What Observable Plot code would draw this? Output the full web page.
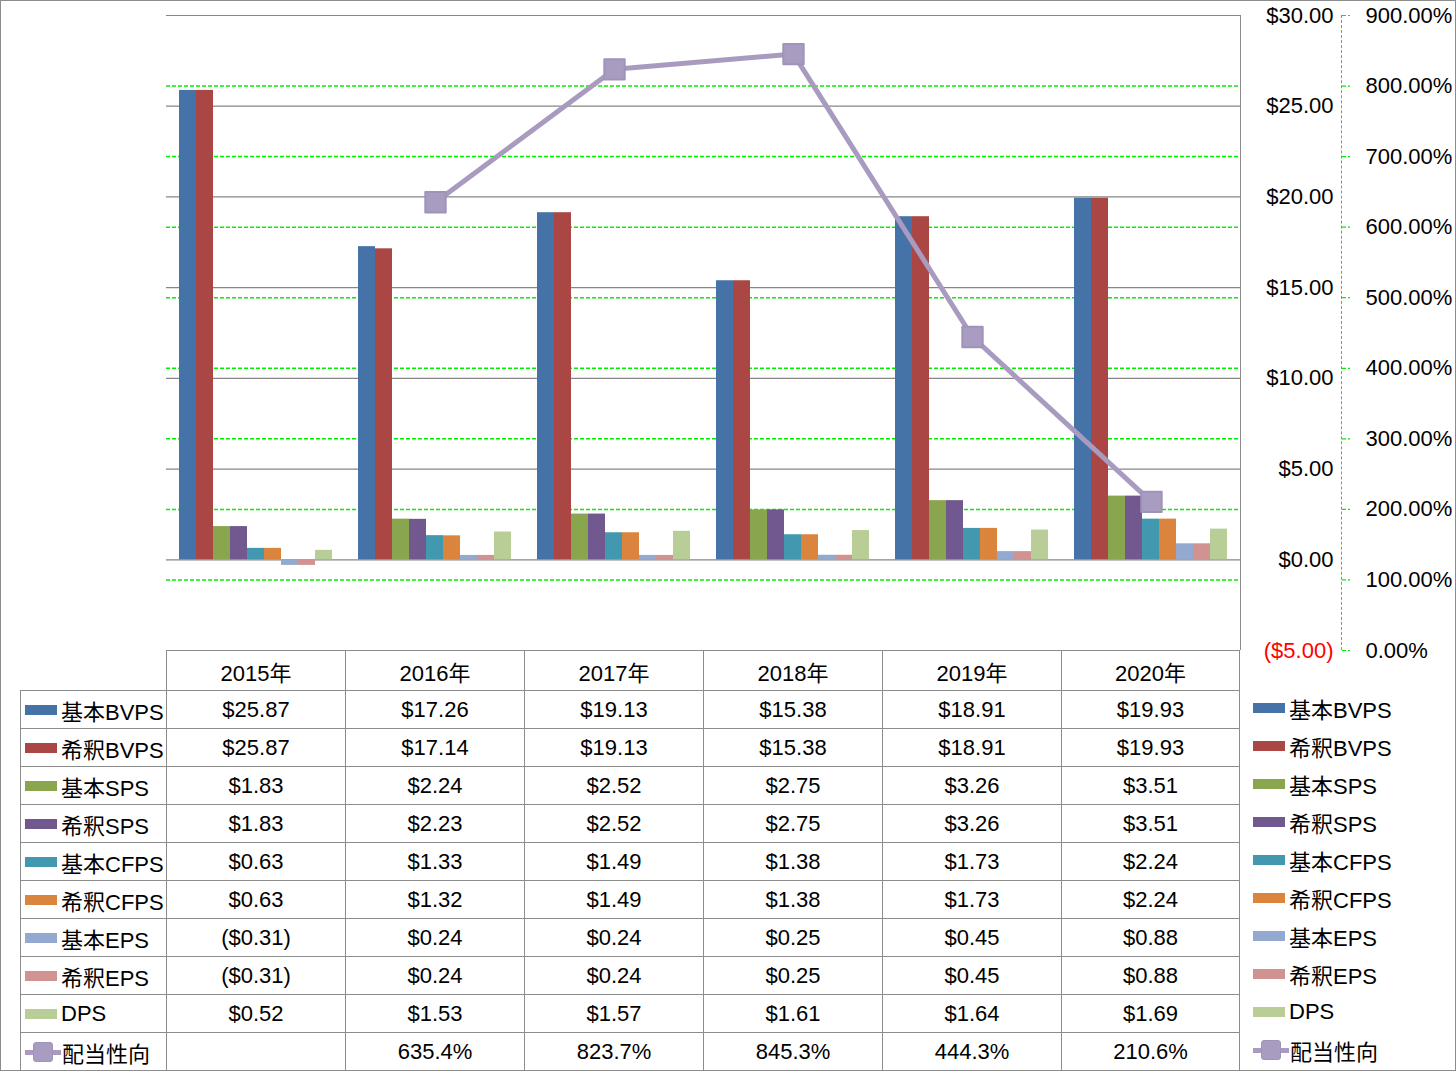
<!DOCTYPE html>
<html><head><meta charset="utf-8">
<script src="https://cdn.jsdelivr.net/npm/d3@7"></script>
<script src="https://cdn.jsdelivr.net/npm/@observablehq/plot@0.6"></script>
<style>
body{margin:0;background:#fff;}
#wrap{position:relative;width:1456px;height:1071px;overflow:hidden;background:#fff;
  font-family:"Liberation Sans","Noto Sans CJK JP",sans-serif;font-size:22px;color:#000;}
.layer{position:absolute;left:0;top:0;}
.layer svg{display:block;}
#border{position:absolute;left:0;top:0;width:1456px;height:1071px;box-sizing:border-box;border:1px solid #8c8c8c;pointer-events:none;}
#vline{position:absolute;left:1240px;top:15px;width:0;height:635px;border-left:1px solid #8c8c8c;}
#paxis{position:absolute;left:1341px;top:15px;width:0;height:635px;border-left:1px dashed #00f000;}
#grid{position:absolute;left:20px;top:650px;display:grid;grid-template-columns:146px repeat(6,179px);grid-template-rows:40px repeat(10,38px);}
.c{box-sizing:border-box;border-left:1px solid #8c8c8c;border-top:1px solid #8c8c8c;display:flex;align-items:center;justify-content:center;white-space:nowrap;}
.c.last{border-right:1px solid #8c8c8c;}
.c.blank{border:none;}
.c.lab{justify-content:flex-start;padding-left:4px;}
.sw{display:inline-block;width:32px;height:10px;margin-right:4px;}
.ln{display:inline-block;position:relative;width:36px;height:20px;margin-right:1px;}
.ln .bar{position:absolute;left:0;top:8px;width:36px;height:5px;}
.ln .sq{position:absolute;left:8px;top:0;width:18px;height:18px;border-radius:3px;border:1px solid #a093b9;}
#legend{position:absolute;left:1253px;top:689px;display:grid;grid-template-rows:repeat(10,38px);}
#legend div{display:flex;align-items:center;white-space:nowrap;}
</style>
</head><body>
<div id="wrap">
  <div id="layerA" class="layer"></div>
  <div id="layerB" class="layer"></div>
  <div id="vline"></div>
  <div id="paxis"></div>
  <div id="layerC" class="layer"></div>
  <div id="grid"></div>
  <div id="legend"></div>
  <div id="border"></div>
</div>
<script>
// ---- data ----
const years = ["2015年","2016年","2017年","2018年","2019年","2020年"];
const seriesNames = ["基本BVPS","希釈BVPS","基本SPS","希釈SPS","基本CFPS","希釈CFPS","基本EPS","希釈EPS","DPS"];
const seriesColors = ["#4572a7","#aa4643","#89a54e","#71588f","#4198af","#db843d","#93a9cf","#d19392","#b9cd96"];
const basicBVPS   = [25.87, 17.26, 19.13, 15.38, 18.91, 19.93];
const dilutedBVPS = [25.87, 17.14, 19.13, 15.38, 18.91, 19.93];
const basicSPS    = [1.83, 2.24, 2.52, 2.75, 3.26, 3.51];
const dilutedSPS  = [1.83, 2.23, 2.52, 2.75, 3.26, 3.51];
const basicCFPS   = [0.63, 1.33, 1.49, 1.38, 1.73, 2.24];
const dilutedCFPS = [0.63, 1.32, 1.49, 1.38, 1.73, 2.24];
const basicEPS    = [-0.31, 0.24, 0.24, 0.25, 0.45, 0.88];
const dilutedEPS  = [-0.31, 0.24, 0.24, 0.25, 0.45, 0.88];
const dps         = [0.52, 1.53, 1.57, 1.61, 1.64, 1.69];
const payoutName = "配当性向";
const payout      = [null, 635.4, 823.7, 845.3, 444.3, 210.6];
const lineColor = "#a99bbf";
const dollarTicks = [-5, 0, 5, 10, 15, 20, 25, 30];
const pctTicks = [0, 100, 200, 300, 400, 500, 600, 700, 800, 900];

const seriesValues = [basicBVPS, dilutedBVPS, basicSPS, dilutedSPS, basicCFPS, dilutedCFPS, basicEPS, dilutedEPS, dps];
const rows = years.flatMap((yr, i) => seriesNames.map((s, j) => ({year: yr, series: s, value: seriesValues[j][i]})));
const lineData = years.map((yr, i) => ({year: yr, payout: payout[i]})).filter(d => d.payout != null);

const fmtDollar = d => d < 0 ? `($${(-d).toFixed(2)})` : `$${d.toFixed(2)}`;
const fmtPct = d => d.toFixed(2) + "%";
const font = '"Liberation Sans","Noto Sans CJK JP",sans-serif';
const style = {background: "transparent", fontFamily: font, fontSize: "22px", color: "#000", overflow: "visible"};
const W = 1456, H = 660, mT = 15, mB = 10, mL = 166, mR = 216;
const green = "#00f000";

// Layer A: percentage grid + right axis
const plotA = Plot.plot({
  width: W, height: H, marginTop: mT, marginBottom: mB, marginLeft: mL, marginRight: 115,
  style,
  x: {axis: null},
  y: {domain: [0, 900], axis: null},
  marks: [
    Plot.ruleY(pctTicks.filter(d => d > 0 && d < 900), {stroke: green, strokeWidth: 1.5, strokeDasharray: "4,2", insetRight: 101}),
    Plot.axisY(pctTicks, {anchor: "right", label: null, tickSize: 8, tickPadding: 16, stroke: green, strokeWidth: 1.2, strokeDasharray: "4,2", fill: "#000", tickFormat: fmtPct})
  ]
});
document.getElementById("layerA").append(plotA);

// Layer B: bars, dollar grid and dollar axis
const plotB = Plot.plot({
  width: W, height: H, marginTop: mT, marginBottom: mB, marginLeft: mL, marginRight: mR,
  style,
  fx: {domain: years, paddingInner: 0, paddingOuter: 0, axis: null, label: null},
  x: {domain: seriesNames, paddingInner: 0, paddingOuter: 0.75, axis: null},
  y: {domain: [-5, 30], axis: null},
  color: {domain: seriesNames, range: seriesColors},
  marks: [
    Plot.ruleY(dollarTicks.filter(d => d > -5), {stroke: "#868686", strokeWidth: 1.2}),
    Plot.barY(rows, {fx: "year", x: "series", y: "value", fill: "series"}),
    Plot.axisY(dollarTicks.filter(d => d >= 0), {anchor: "right", label: null, tickSize: 0, tickPadding: 93, textAnchor: "end", fill: "#000", tickFormat: fmtDollar}),
    Plot.axisY(dollarTicks.filter(d => d < 0), {anchor: "right", label: null, tickSize: 0, tickPadding: 93, textAnchor: "end", fill: "#ff0000", tickFormat: fmtDollar})
  ]
});
document.getElementById("layerB").append(plotB);

// Layer C: payout ratio line
const plotC = Plot.plot({
  width: W, height: H, marginTop: mT, marginBottom: mB, marginLeft: mL, marginRight: mR,
  style,
  x: {type: "point", domain: years, padding: 0.5, axis: null},
  y: {domain: [0, 900], axis: null},
  marks: [
    Plot.line(lineData, {x: "year", y: "payout", stroke: lineColor, strokeWidth: 5}),
    Plot.dot(lineData, {x: "year", y: "payout", symbol: "square", r: 11.5, fill: "#a99cc1", stroke: "#a093b9", strokeWidth: 2, strokeLinejoin: "round"})
  ]
});
document.getElementById("layerC").append(plotC);

// ---- data table ----
const grid = document.getElementById("grid");
function cell(html, cls) {
  const d = document.createElement("div");
  d.className = "c " + (cls || "");
  d.innerHTML = html;
  grid.append(d);
}
cell("", "blank");
years.forEach((y, i) => cell(y, i === years.length - 1 ? "last" : ""));
const lineSwatch = `<span class="ln"><span class="bar" style="background:${lineColor}"></span><span class="sq" style="background:#a99cc1"></span></span>`;
seriesNames.forEach((s, j) => {
  cell(`<span class="sw" style="background:${seriesColors[j]}"></span>${s}`, "lab");
  seriesValues[j].forEach((v, i) => cell(fmtDollar(v), i === years.length - 1 ? "last" : ""));
});
cell(lineSwatch + payoutName, "lab");
payout.forEach((v, i) => cell(v == null ? "" : v.toFixed(1) + "%", i === years.length - 1 ? "last" : ""));

// ---- right legend ----
const legend = document.getElementById("legend");
seriesNames.forEach((s, j) => {
  const d = document.createElement("div");
  d.innerHTML = `<span class="sw" style="background:${seriesColors[j]}"></span>${s}`;
  legend.append(d);
});
{
  const d = document.createElement("div");
  d.innerHTML = lineSwatch + payoutName;
  legend.append(d);
}
</script>
</body></html>
